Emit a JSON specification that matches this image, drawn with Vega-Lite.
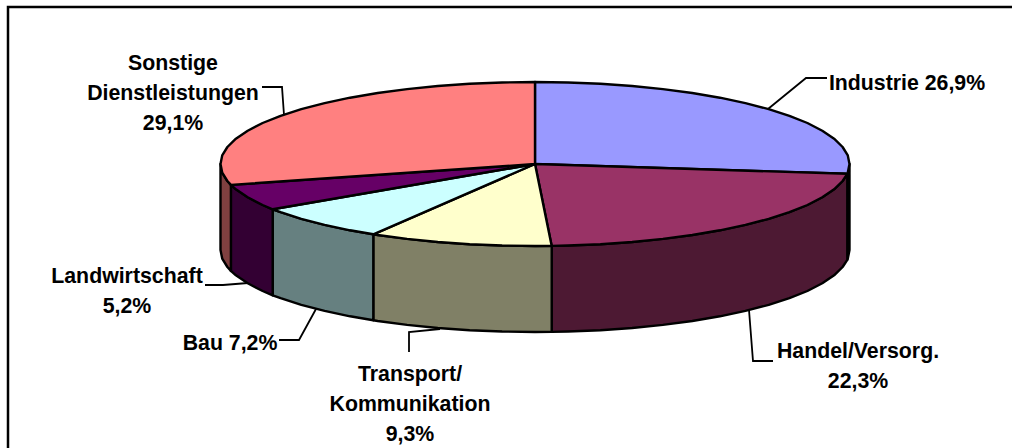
{
"$schema":"https://vega.github.io/schema/vega-lite/v6.json",
"width":1012,"height":448,"padding":0,
"autosize":"none",
"background":"white",
"view":{"stroke":null},
"datasets":{
"pieces":[
{"piece":"Industrie Wand","n":0,"x":314.5,"y":0},{"piece":"Industrie Wand","n":1,"x":312.8,"y":-8.6},{"piece":"Industrie Wand","n":2,"x":312.3,"y":-9.8},{"piece":"Industrie Wand","n":3,"x":312.3,"y":-95.8},{"piece":"Industrie Wand","n":4,"x":312.8,"y":-94.6},{"piece":"Industrie Wand","n":5,"x":314.5,"y":-86},
{"piece":"Handel Wand","n":0,"x":312.3,"y":-9.8},{"piece":"Handel Wand","n":1,"x":307.6,"y":-17},{"piece":"Handel Wand","n":2,"x":299.1,"y":-25.3},{"piece":"Handel Wand","n":3,"x":287.3,"y":-33.3},{"piece":"Handel Wand","n":4,"x":272.4,"y":-41},{"piece":"Handel Wand","n":5,"x":254.4,"y":-48.2},{"piece":"Handel Wand","n":6,"x":233.7,"y":-54.9},{"piece":"Handel Wand","n":7,"x":210.4,"y":-60.9},{"piece":"Handel Wand","n":8,"x":184.9,"y":-66.3},{"piece":"Handel Wand","n":9,"x":157.3,"y":-71},{"piece":"Handel Wand","n":10,"x":127.9,"y":-74.9},{"piece":"Handel Wand","n":11,"x":97.2,"y":-78},{"piece":"Handel Wand","n":12,"x":65.4,"y":-80.2},{"piece":"Handel Wand","n":13,"x":32.9,"y":-81.5},{"piece":"Handel Wand","n":14,"x":16.7,"y":-81.9},
{"piece":"Handel Wand","n":15,"x":16.7,"y":-167.9},{"piece":"Handel Wand","n":16,"x":32.9,"y":-167.5},{"piece":"Handel Wand","n":17,"x":65.4,"y":-166.2},{"piece":"Handel Wand","n":18,"x":97.2,"y":-164},{"piece":"Handel Wand","n":19,"x":127.9,"y":-160.9},{"piece":"Handel Wand","n":20,"x":157.3,"y":-157},{"piece":"Handel Wand","n":21,"x":184.9,"y":-152.3},{"piece":"Handel Wand","n":22,"x":210.4,"y":-146.9},{"piece":"Handel Wand","n":23,"x":233.7,"y":-140.9},{"piece":"Handel Wand","n":24,"x":254.4,"y":-134.2},{"piece":"Handel Wand","n":25,"x":272.4,"y":-127},{"piece":"Handel Wand","n":26,"x":287.3,"y":-119.3},{"piece":"Handel Wand","n":27,"x":299.1,"y":-111.3},{"piece":"Handel Wand","n":28,"x":307.6,"y":-103},{"piece":"Handel Wand","n":29,"x":312.3,"y":-95.8},
{"piece":"Transport Wand","n":0,"x":16.7,"y":-81.9},{"piece":"Transport Wand","n":1,"x":0,"y":-82},{"piece":"Transport Wand","n":2,"x":-32.9,"y":-81.5},{"piece":"Transport Wand","n":3,"x":-65.4,"y":-80.2},{"piece":"Transport Wand","n":4,"x":-97.2,"y":-78},{"piece":"Transport Wand","n":5,"x":-127.9,"y":-74.9},{"piece":"Transport Wand","n":6,"x":-157.3,"y":-71},{"piece":"Transport Wand","n":7,"x":-161.7,"y":-70.3},{"piece":"Transport Wand","n":8,"x":-161.7,"y":-156.3},{"piece":"Transport Wand","n":9,"x":-157.3,"y":-157},{"piece":"Transport Wand","n":10,"x":-127.9,"y":-160.9},{"piece":"Transport Wand","n":11,"x":-97.2,"y":-164},{"piece":"Transport Wand","n":12,"x":-65.4,"y":-166.2},{"piece":"Transport Wand","n":13,"x":-32.9,"y":-167.5},{"piece":"Transport Wand","n":14,"x":0,"y":-168},{"piece":"Transport Wand","n":15,"x":16.7,"y":-167.9},
{"piece":"Bau Wand","n":0,"x":-161.7,"y":-70.3},{"piece":"Bau Wand","n":1,"x":-184.9,"y":-66.3},{"piece":"Bau Wand","n":2,"x":-210.4,"y":-60.9},{"piece":"Bau Wand","n":3,"x":-233.7,"y":-54.9},{"piece":"Bau Wand","n":4,"x":-254.4,"y":-48.2},{"piece":"Bau Wand","n":5,"x":-262.3,"y":-45.3},{"piece":"Bau Wand","n":6,"x":-262.3,"y":-131.3},{"piece":"Bau Wand","n":7,"x":-254.4,"y":-134.2},{"piece":"Bau Wand","n":8,"x":-233.7,"y":-140.9},{"piece":"Bau Wand","n":9,"x":-210.4,"y":-146.9},{"piece":"Bau Wand","n":10,"x":-184.9,"y":-152.3},{"piece":"Bau Wand","n":11,"x":-161.7,"y":-156.3},
{"piece":"Landwirtschaft Wand","n":0,"x":-262.3,"y":-45.3},{"piece":"Landwirtschaft Wand","n":1,"x":-272.4,"y":-41},{"piece":"Landwirtschaft Wand","n":2,"x":-287.3,"y":-33.3},{"piece":"Landwirtschaft Wand","n":3,"x":-299.1,"y":-25.3},{"piece":"Landwirtschaft Wand","n":4,"x":-304.1,"y":-20.9},{"piece":"Landwirtschaft Wand","n":5,"x":-304.1,"y":-106.9},{"piece":"Landwirtschaft Wand","n":6,"x":-299.1,"y":-111.3},{"piece":"Landwirtschaft Wand","n":7,"x":-287.3,"y":-119.3},{"piece":"Landwirtschaft Wand","n":8,"x":-272.4,"y":-127},{"piece":"Landwirtschaft Wand","n":9,"x":-262.3,"y":-131.3},
{"piece":"Sonstige Wand","n":0,"x":-304.1,"y":-20.9},{"piece":"Sonstige Wand","n":1,"x":-307.6,"y":-17},{"piece":"Sonstige Wand","n":2,"x":-312.8,"y":-8.6},{"piece":"Sonstige Wand","n":3,"x":-314.5,"y":0},{"piece":"Sonstige Wand","n":4,"x":-314.5,"y":-86},{"piece":"Sonstige Wand","n":5,"x":-312.8,"y":-94.6},{"piece":"Sonstige Wand","n":6,"x":-307.6,"y":-103},{"piece":"Sonstige Wand","n":7,"x":-304.1,"y":-106.9},
{"piece":"Industrie","n":0,"x":0,"y":0},{"piece":"Industrie","n":1,"x":0,"y":82},{"piece":"Industrie","n":2,"x":32.9,"y":81.5},{"piece":"Industrie","n":3,"x":65.4,"y":80.2},{"piece":"Industrie","n":4,"x":97.2,"y":78},{"piece":"Industrie","n":5,"x":127.9,"y":74.9},{"piece":"Industrie","n":6,"x":157.3,"y":71},{"piece":"Industrie","n":7,"x":184.9,"y":66.3},{"piece":"Industrie","n":8,"x":210.4,"y":60.9},{"piece":"Industrie","n":9,"x":233.7,"y":54.9},{"piece":"Industrie","n":10,"x":254.4,"y":48.2},{"piece":"Industrie","n":11,"x":272.4,"y":41},{"piece":"Industrie","n":12,"x":287.3,"y":33.3},{"piece":"Industrie","n":13,"x":299.1,"y":25.3},{"piece":"Industrie","n":14,"x":307.6,"y":17},{"piece":"Industrie","n":15,"x":312.8,"y":8.6},{"piece":"Industrie","n":16,"x":314.5,"y":0},{"piece":"Industrie","n":17,"x":312.8,"y":-8.6},{"piece":"Industrie","n":18,"x":312.3,"y":-9.8},
{"piece":"Handel","n":0,"x":0,"y":0},{"piece":"Handel","n":1,"x":312.3,"y":-9.8},{"piece":"Handel","n":2,"x":307.6,"y":-17},{"piece":"Handel","n":3,"x":299.1,"y":-25.3},{"piece":"Handel","n":4,"x":287.3,"y":-33.3},{"piece":"Handel","n":5,"x":272.4,"y":-41},{"piece":"Handel","n":6,"x":254.4,"y":-48.2},{"piece":"Handel","n":7,"x":233.7,"y":-54.9},{"piece":"Handel","n":8,"x":210.4,"y":-60.9},{"piece":"Handel","n":9,"x":184.9,"y":-66.3},{"piece":"Handel","n":10,"x":157.3,"y":-71},{"piece":"Handel","n":11,"x":127.9,"y":-74.9},{"piece":"Handel","n":12,"x":97.2,"y":-78},{"piece":"Handel","n":13,"x":65.4,"y":-80.2},{"piece":"Handel","n":14,"x":32.9,"y":-81.5},{"piece":"Handel","n":15,"x":16.7,"y":-81.9},
{"piece":"Transport","n":0,"x":0,"y":0},{"piece":"Transport","n":1,"x":16.7,"y":-81.9},{"piece":"Transport","n":2,"x":0,"y":-82},{"piece":"Transport","n":3,"x":-32.9,"y":-81.5},{"piece":"Transport","n":4,"x":-65.4,"y":-80.2},{"piece":"Transport","n":5,"x":-97.2,"y":-78},{"piece":"Transport","n":6,"x":-127.9,"y":-74.9},{"piece":"Transport","n":7,"x":-157.3,"y":-71},{"piece":"Transport","n":8,"x":-161.7,"y":-70.3},
{"piece":"Bau","n":0,"x":0,"y":0},{"piece":"Bau","n":1,"x":-161.7,"y":-70.3},{"piece":"Bau","n":2,"x":-184.9,"y":-66.3},{"piece":"Bau","n":3,"x":-210.4,"y":-60.9},{"piece":"Bau","n":4,"x":-233.7,"y":-54.9},{"piece":"Bau","n":5,"x":-254.4,"y":-48.2},{"piece":"Bau","n":6,"x":-262.3,"y":-45.3},
{"piece":"Landwirtschaft","n":0,"x":0,"y":0},{"piece":"Landwirtschaft","n":1,"x":-262.3,"y":-45.3},{"piece":"Landwirtschaft","n":2,"x":-272.4,"y":-41},{"piece":"Landwirtschaft","n":3,"x":-287.3,"y":-33.3},{"piece":"Landwirtschaft","n":4,"x":-299.1,"y":-25.3},{"piece":"Landwirtschaft","n":5,"x":-304.1,"y":-20.9},
{"piece":"Sonstige","n":0,"x":0,"y":0},{"piece":"Sonstige","n":1,"x":-304.1,"y":-20.9},{"piece":"Sonstige","n":2,"x":-307.6,"y":-17},{"piece":"Sonstige","n":3,"x":-312.8,"y":-8.6},{"piece":"Sonstige","n":4,"x":-314.5,"y":0},{"piece":"Sonstige","n":5,"x":-312.8,"y":8.6},{"piece":"Sonstige","n":6,"x":-307.6,"y":17},{"piece":"Sonstige","n":7,"x":-299.1,"y":25.3},{"piece":"Sonstige","n":8,"x":-287.3,"y":33.3},{"piece":"Sonstige","n":9,"x":-272.4,"y":41},{"piece":"Sonstige","n":10,"x":-254.4,"y":48.2},{"piece":"Sonstige","n":11,"x":-233.7,"y":54.9},{"piece":"Sonstige","n":12,"x":-210.4,"y":60.9},{"piece":"Sonstige","n":13,"x":-184.9,"y":66.3},{"piece":"Sonstige","n":14,"x":-157.3,"y":71},{"piece":"Sonstige","n":15,"x":-127.9,"y":74.9},{"piece":"Sonstige","n":16,"x":-97.2,"y":78},{"piece":"Sonstige","n":17,"x":-65.4,"y":80.2},{"piece":"Sonstige","n":18,"x":-32.9,"y":81.5},{"piece":"Sonstige","n":19,"x":0,"y":82}
],
"leaders":[
{"slice":"Sonstige","n":0,"x":-273,"y":77},{"slice":"Sonstige","n":1,"x":-253,"y":77},{"slice":"Sonstige","n":2,"x":-251,"y":49},
{"slice":"Industrie","n":0,"x":292,"y":86},{"slice":"Industrie","n":1,"x":271,"y":86},{"slice":"Industrie","n":2,"x":233,"y":55},
{"slice":"Handel","n":0,"x":214,"y":-146},{"slice":"Handel","n":1,"x":218,"y":-197},{"slice":"Handel","n":2,"x":238,"y":-197},
{"slice":"Transport","n":0,"x":-95,"y":-165},{"slice":"Transport","n":1,"x":-126,"y":-168},{"slice":"Transport","n":2,"x":-126,"y":-188},
{"slice":"Bau","n":0,"x":-219,"y":-145},{"slice":"Bau","n":1,"x":-236,"y":-176},{"slice":"Bau","n":2,"x":-256,"y":-176},
{"slice":"Landwirtschaft","n":0,"x":-287,"y":-119},{"slice":"Landwirtschaft","n":1,"x":-312,"y":-121},{"slice":"Landwirtschaft","n":2,"x":-330,"y":-121}
],
"frame":[{"n":0,"x":-527,"y":-284},{"n":1,"x":-527,"y":157},{"n":2,"x":477,"y":157}],
"labels":[
{"label":"Sonstige\nDienstleistungen\n29,1%","share":29.1,"x":-362,"y":100.5},
{"label":"Industrie 26,9%","share":26.9,"x":372,"y":80.5},
{"label":"Handel/Versorg.\n22,3%","share":22.3,"x":323,"y":-187.5},
{"label":"Transport/\nKommunikation\n9,3%","share":9.3,"x":-125,"y":-210.5},
{"label":"Bau 7,2%","share":7.2,"x":-305,"y":-180},
{"label":"Landwirtschaft\n5,2%","share":5.2,"x":-408,"y":-112.5}
]
},
"layer":[
{"data":{"name":"frame"},"mark":{"type":"line","stroke":"black","strokeWidth":2.5},
 "encoding":{"x":{"field":"x","type":"quantitative","scale":{"domain":[-535,477],"nice":false,"zero":false},"axis":null},"y":{"field":"y","type":"quantitative","scale":{"domain":[-284,164],"nice":false,"zero":false},"axis":null},"order":{"field":"n"}}},
{"data":{"name":"pieces"},"mark":{"type":"line","interpolate":"linear-closed","stroke":"black","strokeWidth":2.4,"strokeJoin":"round"},
 "encoding":{"x":{"field":"x","type":"quantitative"},"y":{"field":"y","type":"quantitative"},"order":{"field":"n"},
 "detail":{"field":"piece"},
 "fill":{"field":"piece","type":"nominal","legend":null,"sort":null,"scale":{"domain":["Industrie","Handel","Transport","Bau","Landwirtschaft","Sonstige","Industrie Wand","Handel Wand","Transport Wand","Bau Wand","Landwirtschaft Wand","Sonstige Wand"],"range":["#9999FF","#993366","#FFFFCC","#CCFFFF","#660066","#FF8080","#4D4D80","#4D1933","#808066","#668080","#330033","#804040"]}}}},
{"data":{"name":"leaders"},"mark":{"type":"line","stroke":"black","strokeWidth":1.8},
 "encoding":{"x":{"field":"x","type":"quantitative"},"y":{"field":"y","type":"quantitative"},"order":{"field":"n"},"detail":{"field":"slice"}}},
{"data":{"name":"labels"},"mark":{"type":"text","font":"Liberation Sans","fontWeight":"bold","fontSize":21.3,"lineBreak":"\n","lineHeight":30,"align":"center","baseline":"middle","color":"black"},
 "encoding":{"x":{"field":"x","type":"quantitative"},"y":{"field":"y","type":"quantitative"},"text":{"field":"label"}}}
]
}
